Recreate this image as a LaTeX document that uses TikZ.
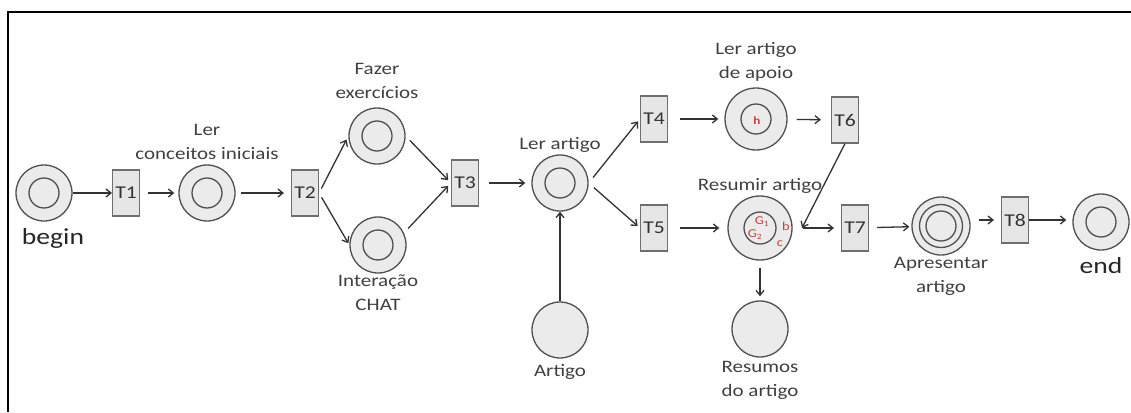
\documentclass[tikz,border=0pt]{standalone}
\usepackage{fontspec}
\setmainfont{Carlito}[FakeStretch=1.2]
\usetikzlibrary{arrows.meta,positioning}
\definecolor{placefill}{HTML}{EBEBEB}
\definecolor{placeline}{HTML}{505050}
\definecolor{transfill}{HTML}{E6E6E6}
\definecolor{transline}{HTML}{6E6E6E}
\definecolor{arcgrey}{HTML}{333333}
\definecolor{labelgrey}{HTML}{404040}
\definecolor{tokenred}{HTML}{D23C3C}
\tikzset{
  place/.style={circle,draw=placeline,fill=placefill,line width=1.3pt,
    minimum size=56pt,inner sep=0pt},
  ring/.style={place,path picture={\draw[placeline,line width=1.3pt]
    (path picture bounding box.center) circle (#1);}},
  ring/.default=15pt,
  trans/.style={rectangle,draw=transline,fill=transfill,line width=1.1pt,
    minimum width=27pt,minimum height=46pt,inner sep=0pt,text=arcgrey,
    font=\fontsize{18}{18}\selectfont},
  lbl/.style={text=labelgrey,align=center,inner sep=0pt,
    font=\fontsize{17.5}{24}\selectfont},
  biglbl/.style={text=black!85,inner sep=0pt,font=\fontsize{23}{23}\selectfont},
  tok/.style={text=tokenred,inner sep=0pt,font=\fontsize{12}{12}\selectfont},
  flow/.style={-{Straight Barb[length=5pt,width=8pt,line width=1.3pt]},
    draw=arcgrey,line width=1.3pt}
}
\begin{document}
\begin{tikzpicture}[x=1pt,y=1pt]
  \useasboundingbox (0,0) rectangle (1131,-412);
  % frame, only the top and left edges fall inside the picture
  \draw[line width=2pt] (8,-412) |- (1131,-12);

  % places (pixel positions of the reference, y downwards)
  \node[ring] (begin)   at (44,-193)  {};
  \node[ring] (concept) at (207,-193) {};
  \node[ring] (exerc)   at (377,-136) {};
  \node[ring] (chat)    at (378,-245) {};
  \node[ring] (readart) at (560,-183) {};
  \node[place] (artigo) at (560,-330) {};
  \node[ring,minimum size=62pt] (apoio)   at (756,-119) {};
  \node[ring=16pt,minimum size=64pt] (resumir) at (760,-228) {};
  \node[place] (resumos) at (760,-329) {};
  \node[place,minimum size=58pt,path picture={
      \draw[placeline,line width=1.3pt] (path picture bounding box.center) circle (21.5pt);
      \draw[placeline,line width=1.3pt] (path picture bounding box.center) circle (15pt);}]
    (apres) at (941,-226) {};
  \node[ring] (finish)  at (1101,-222) {};

  % transitions
  \node[trans] (t1) at (126,-193)  {T1};
  \node[trans] (t2) at (305,-193)  {T2};
  \node[trans] (t3) at (465,-183)  {T3};
  \node[trans] (t4) at (654,-119)  {T4};
  \node[trans] (t5) at (654,-228)  {T5};
  \node[trans] (t6) at (845,-120)  {T6};
  \node[trans] (t7) at (855,-228)  {T7};
  \node[trans] (t8) at (1015,-220) {T8};

  % tokens
  \node[tok,font=\fontsize{11}{11}\selectfont\bfseries] (tokh) at (757,-121) {h};
  \node[tok] (tokg1) at (762,-222) {G\textsubscript{1}};
  \node[tok] (tokg2) at (755,-235) {G\textsubscript{2}};
  \node[tok] (tokb)  at (786,-226) {b};
  \node[tok] (tokc)  at (780,-244) {c};

  % labels
  \node[biglbl,below=7pt of begin,xshift=9pt] (lbegin) {begin};
  \node[biglbl,below=7pt of finish] (lend) {end};
  \node[lbl,above=5pt of concept] (lconcept) {Ler\\conceitos iniciais};
  \node[lbl,above=9pt of exerc] (lexerc) {Fazer\\exercícios};
  \node[lbl,below=1pt of chat] (lchat) {Interação\\CHAT};
  \node[lbl,above=2pt of readart] (lreadart) {Ler artigo};
  \node[lbl,below=6pt of artigo] (lartigo) {Artigo};
  \node[lbl,above=6pt of apoio] (lapoio) {Ler artigo\\de apoio};
  \node[lbl,above=2pt of resumir] (lresumir) {Resumir artigo};
  \node[lbl,below=3pt of resumos] (lresumos) {Resumos\\do artigo};
  \node[lbl,below=1pt of apres] (lapres) {Apresentar\\artigo};

  % arcs
  \coordinate (join) at (802,-228);
  \draw[flow] (begin) -- (t1);
  \draw[flow,shorten <=8pt,shorten >=4pt] (t1) -- (concept);
  \draw[flow,shorten <=5pt,shorten >=7pt] (concept) -- (t2);
  \draw[flow,shorten <=5pt,shorten >=4pt] (t2.east) -- (exerc.west);
  \draw[flow,shorten <=5pt,shorten >=2pt] (t2.east) -- (chat.west);
  \draw[flow,shorten <=6pt,shorten >=4pt] (exerc.east) -- (t3.west);
  \draw[flow,shorten <=6pt,shorten >=4pt] (chat.25) -- (t3.west);
  \draw[flow,shorten <=10pt,shorten >=6pt] (t3) -- (readart);
  \draw[flow,shorten <=7pt,shorten >=3pt] (readart.east) -- (t4.west);
  \draw[flow,shorten <=7pt,shorten >=3pt] (readart.east) -- (t5.west);
  \draw[flow] (artigo) -- (readart);
  \draw[flow,shorten <=12pt,shorten >=6pt] (t4) -- (apoio);
  \draw[flow,shorten <=9pt,shorten >=10pt] (apoio) -- (t6);
  \draw[flow,shorten <=12pt,shorten >=8pt] (t5) -- (resumir);
  \draw[flow] (t6.south) -- (join);
  \draw[flow,shorten <=10pt,shorten >=7pt] (resumir) -- (t7);
  \draw[flow,shorten <=7pt,shorten >=4pt] (resumir) -- (resumos);
  \draw[flow,shorten <=8pt,shorten >=2pt] (t7) -- (apres);
  \draw[flow,shorten <=8pt,shorten >=7pt] (apres.east |- t8) -- (t8);
  \draw[flow,shorten >=6pt] (t8) -- (finish.west |- t8);
\end{tikzpicture}
\end{document}
